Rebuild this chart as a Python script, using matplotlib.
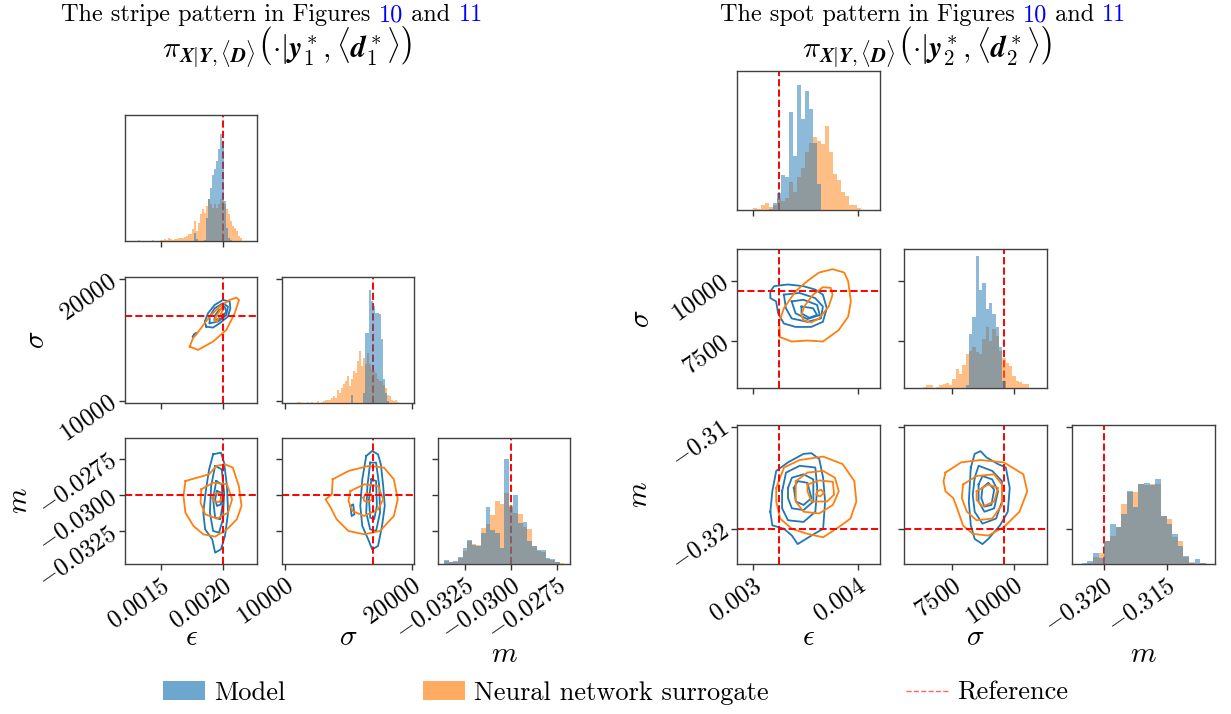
import numpy as np
import matplotlib.pyplot as plt
from matplotlib.patches import Patch
from matplotlib.lines import Line2D

plt.rcParams['font.family'] = 'serif'
plt.rcParams['font.serif'] = ['cmr10']
plt.rcParams['mathtext.fontset'] = 'cm'
plt.rcParams['axes.formatter.use_mathtext'] = True

BLUE = '#1f77b4'
ORANGE = '#ff7f0e'

names = [r'$\epsilon$', r'$\sigma$', r'$m$']

# ---------------- stripe pattern (left) ----------------
ref1 = [0.0020, 16950, -0.0300]

eps1_range = (0.001313, 0.002147)
eps1_orange = [3, 0, 0, 0, 0, 0, 0, 2, 0, 0, 0, 3, 3, 5, 4, 8, 5, 4, 6, 5,
               8, 10, 10, 12, 16, 20, 22, 35, 60, 30, 55, 80, 95, 85, 105, 125, 110, 100, 110, 100,
               110, 125, 120, 110, 95, 80, 60, 45, 40, 30, 15, 8]
eps1_blue = [0, 0, 0, 0, 0, 0, 0, 0, 0, 0, 0, 0, 0, 0, 0, 0, 0, 0, 0, 0,
             0, 0, 0, 0, 0, 0, 0, 0, 25, 5, 0, 0, 0, 3, 70, 125, 160, 198, 215, 240,
             275, 321, 290, 120, 40, 10, 3, 0, 0, 0, 0, 0]

sig1_range = (10969, 18979)
sig1_orange = [3, 3, 0, 0, 0, 3, 0, 3, 0, 0, 6, 0, 3, 6, 10, 8, 10, 14, 22, 15,
               38, 30, 45, 58, 65, 80, 50, 70, 95, 90, 125, 155, 110, 135, 115, 150, 115, 100, 95, 90,
               70, 65, 65, 55, 45, 25, 20, 8, 6, 8, 4]
sig1_blue = [0, 0, 0, 0, 0, 0, 0, 0, 0, 0, 0, 0, 0, 0, 0, 0, 0, 0, 0, 0,
             0, 0, 0, 0, 0, 0, 0, 25, 0, 0, 0, 0, 0, 30, 207, 207, 335, 305, 290, 268,
             268, 265, 190, 70, 30, 5, 0, 0, 0, 0, 0]

m1_range = (-0.033656, -0.027133)
m1_orange = [8, 5, 5, 18, 40, 70, 60, 58, 108, 120, 148, 190, 181, 213, 178, 153, 150, 110, 105, 55,
             40, 35, 15, 12, 6, 3]
m1_blue = [13, 5, 8, 22, 48, 73, 58, 55, 93, 171, 103, 93, 48, 315, 171, 208, 123, 125, 70, 55,
           42, 42, 18, 15, 5, 0]

xlim1 = [(0.001211, 0.00227), (9800, 20190), (-0.03399, -0.02682)]
ylim1 = [None, (9800, 20190), (-0.03475, -0.02608)]
hist_top1 = [378, 375, 378]
xticks1 = [[0.0015, 0.0020], [10000, 20000], [-0.0325, -0.0300, -0.0275]]
xlabels1 = [['0.0015', '0.0020'], ['10000', '20000'], ['-0.0325', '-0.0300', '-0.0275']]
yticks1 = [[], [10000, 20000], [-0.0325, -0.0300, -0.0275]]
ylabels1 = [[], ['10000', '20000'], ['-0.0325', '-0.0300', '-0.0275']]

# KDE level curves, (x list, y list) per ring
es1_blue = [
    ([0.001863, 0.001917, 0.001970, 0.002037, 0.002056, 0.002051, 0.001997, 0.001930, 0.001877, 0.001850],
     [16100, 16017, 16374, 16924, 17610, 18160, 18297, 17885, 17198, 16512]),
    ([0.001890, 0.001957, 0.002024, 0.002037, 0.001997, 0.001930, 0.001890],
     [16374, 16512, 17061, 17748, 18023, 17610, 16924]),
    ([0.001930, 0.001984, 0.002024, 0.002010, 0.001965, 0.001930],
     [16649, 16786, 17335, 17748, 17473, 16979]),
    ([0.001756, 0.001783, 0.001789, 0.001767], [15276, 15468, 15605, 15495]),
]
es1_orange = [
    ([0.001730, 0.001797, 0.001917, 0.002024, 0.002091, 0.002126, 0.002104, 0.002051, 0.001970, 0.001890,
      0.001810, 0.001756],
     [14451, 14177, 14863, 15825, 17198, 18297, 18489, 18297, 17748, 16924, 15825, 15138]),
    ([0.001944, 0.001970, 0.002002, 0.001992, 0.001957, 0.001930],
     [16512, 16924, 17610, 17748, 17198, 16649]),
]
em1_blue = [
    ([0.001918, 0.001981, 0.002006, 0.002029, 0.002038, 0.002013, 0.001981, 0.001934, 0.001911, 0.001854,
      0.001839, 0.001861, 0.001886],
     [-0.027202, -0.027087, -0.027775, -0.029381, -0.031216, -0.032822, -0.033740, -0.033969, -0.033052,
      -0.032363, -0.031216, -0.029610, -0.028234]),
    ([0.001934, 0.001987, 0.002006, 0.001997, 0.001965, 0.001918, 0.001892, 0.001902],
     [-0.028005, -0.028234, -0.029840, -0.031675, -0.032593, -0.032478, -0.031216, -0.029381]),
    ([0.001943, 0.001987, 0.001997, 0.001975, 0.001934, 0.001918],
     [-0.029037, -0.029266, -0.030528, -0.031675, -0.031560, -0.030299]),
    ([0.001949, 0.001981, 0.001981, 0.001949, 0.001934],
     [-0.029725, -0.029840, -0.030643, -0.030757, -0.030299]),
]
em1_orange = [
    ([0.001696, 0.001791, 0.001886, 0.001943, 0.002013, 0.002076, 0.002124, 0.002146, 0.002108, 0.002029,
      0.001934, 0.001839, 0.001760, 0.001696, 0.001680],
     [-0.029037, -0.028808, -0.028578, -0.028005, -0.027890, -0.028119, -0.029381, -0.030757, -0.031675,
      -0.032363, -0.032868, -0.032707, -0.032134, -0.031216, -0.030069]),
    ([0.001823, 0.001918, 0.002029, 0.002070, 0.002038, 0.001949, 0.001854, 0.001817],
     [-0.029610, -0.029152, -0.029266, -0.030299, -0.031216, -0.031629, -0.031331, -0.030528]),
    ([0.001911, 0.001934, 0.001975, 0.001991, 0.001968, 0.001927],
     [-0.030184, -0.029886, -0.029886, -0.030184, -0.030482, -0.030459]),
]
sm1_blue = [
    ([16429, 16895, 17361, 17579, 17765, 17889, 17672, 17361, 16895, 16585, 16119, 15963, 16119],
     [-0.027317, -0.026972, -0.027202, -0.027890, -0.029381, -0.030757, -0.032134, -0.033510, -0.033740,
      -0.033052, -0.032134, -0.030757, -0.028922]),
    ([16740, 17206, 17454, 17517, 17206, 16740, 16429, 16523],
     [-0.027775, -0.027775, -0.029381, -0.031216, -0.032478, -0.032363, -0.031216, -0.029381]),
    ([16833, 17206, 17268, 17051, 16740, 16647],
     [-0.028922, -0.029037, -0.030757, -0.031675, -0.031560, -0.030299]),
    ([15187, 15404, 15498, 15280], [-0.030757, -0.030643, -0.031331, -0.031446]),
]
sm1_orange = [
    ([13789, 15032, 16585, 17827, 18604, 18914, 18604, 17517, 16274, 15032, 14100, 13634, 13230, 13727],
     [-0.028922, -0.028349, -0.028005, -0.028119, -0.028922, -0.030299, -0.031446, -0.032478, -0.032707,
      -0.032478, -0.031675, -0.030872, -0.030299, -0.029955]),
    ([15187, 16274, 17361, 17765, 17361, 16274, 15342, 15032],
     [-0.029725, -0.029266, -0.029381, -0.030299, -0.030987, -0.031446, -0.031102, -0.030413]),
    ([16212, 16429, 16833, 16895, 16585, 16274],
     [-0.030184, -0.029886, -0.029955, -0.030299, -0.030482, -0.030413]),
]

# ---------------- spot pattern (right) ----------------
ref2 = [0.003245, 9590, -0.3200]

eps2_range = (0.003006, 0.004032)
eps2_orange = [5, 3, 15, 20, 10, 15, 35, 27, 37, 84, 54, 99, 124, 174, 200, 217, 207, 197, 252, 174,
               107, 90, 54, 42, 14, 14, 7]
eps2_blue = [0, 0, 0, 0, 3, 20, 52, 105, 100, 294, 162, 372, 272, 354, 302, 200, 77, 0, 0, 0,
             0, 0, 0, 0, 0, 0, 0]

sig2_range = (6284, 10608)
sig2_orange = [3, 8, 8, 0, 3, 10, 12, 15, 8, 28, 55, 40, 68, 100, 110, 120, 105, 100, 145, 180,
               140, 175, 155, 110, 90, 75, 65, 35, 20, 18, 12, 12]
sig2_blue = [0, 0, 0, 0, 0, 0, 0, 0, 0, 0, 0, 0, 0, 10, 160, 210, 390, 290, 310, 235,
             250, 220, 180, 120, 20, 0, 0, 0, 0, 0, 0, 0]

m2_range = (-0.321818, -0.311363)
m2_orange = [0, 3, 20, 32, 70, 85, 110, 180, 215, 215, 240, 237, 238, 240, 143, 133, 80, 70, 20, 5,
             0, 3, 0]
m2_blue = [3, 8, 32, 18, 70, 118, 110, 150, 217, 170, 240, 243, 235, 255, 143, 120, 90, 55, 25, 3,
           15, 3, 0]

xlim2 = [(0.00285, 0.00421), (5530, 11340), (-0.3226, -0.3111)]
ylim2 = [None, (5530, 11340), (-0.32345, -0.30984)]
hist_top2 = [415, 411, 415]
xticks2 = [[0.003, 0.004], [7500, 10000], [-0.320, -0.315]]
xlabels2 = [['0.003', '0.004'], ['7500', '10000'], ['-0.320', '-0.315']]
yticks2 = [[], [7500, 10000], [-0.32, -0.31]]
ylabels2 = [[], ['7500', '10000'], ['-0.32', '-0.31']]

es2_blue = [
    ([0.003167, 0.003204, 0.003333, 0.003481, 0.003593, 0.003667, 0.003704, 0.003667, 0.003556, 0.003407,
      0.003296, 0.003241, 0.003222, 0.003167],
     [9574, 9787, 9858, 9787, 9645, 9432, 8864, 8296, 8083, 8083, 8225, 8651, 9148, 9290]),
    ([0.003296, 0.003444, 0.003593, 0.003667, 0.003648, 0.003519, 0.003370, 0.003315],
     [9432, 9503, 9290, 8935, 8438, 8296, 8438, 8864]),
    ([0.003370, 0.003481, 0.003611, 0.003637, 0.003519, 0.003407],
     [9148, 9219, 9006, 8580, 8410, 8651]),
    ([0.003463, 0.003574, 0.003611, 0.003537, 0.003463],
     [8935, 8864, 8580, 8466, 8651]),
]
es2_orange = [
    ([0.003259, 0.003370, 0.003519, 0.003667, 0.003815, 0.003907, 0.003933, 0.003907, 0.003870, 0.003759,
      0.003630, 0.003519, 0.003407, 0.003296, 0.003252],
     [7657, 7472, 7515, 7472, 7941, 8509, 9148, 10000, 10355, 10497, 10355, 10000, 9574, 8864, 8296]),
    ([0.003481, 0.003556, 0.003630, 0.003722, 0.003759, 0.003741, 0.003667, 0.003574, 0.003489, 0.003463],
     [8367, 8268, 8438, 8935, 9432, 9716, 9744, 9432, 8935, 8580]),
]
em2_blue = [
    ([0.003167, 0.003186, 0.003223, 0.003335, 0.003483, 0.003558, 0.003632, 0.003669, 0.003688, 0.003669,
      0.003558, 0.003427, 0.003372, 0.003297, 0.003186],
     [-0.318333, -0.316333, -0.314333, -0.313500, -0.312667, -0.312600, -0.313167, -0.315000, -0.317333,
      -0.320000, -0.320667, -0.321500, -0.320667, -0.320000, -0.319667]),
    ([0.003279, 0.003316, 0.003446, 0.003595, 0.003613, 0.003595, 0.003483, 0.003335, 0.003279],
     [-0.316333, -0.314500, -0.313833, -0.314000, -0.316000, -0.318333, -0.319333, -0.319167, -0.318000]),
    ([0.003335, 0.003372, 0.003483, 0.003576, 0.003576, 0.003483, 0.003372, 0.003335],
     [-0.316000, -0.315000, -0.314667, -0.315167, -0.317333, -0.318167, -0.318000, -0.317000]),
    ([0.003390, 0.003427, 0.003520, 0.003558, 0.003483, 0.003409],
     [-0.316000, -0.315333, -0.315500, -0.317000, -0.317667, -0.317333]),
]
em2_orange = [
    ([0.003223, 0.003297, 0.003446, 0.003669, 0.003855, 0.003966, 0.003985, 0.003929, 0.003818, 0.003669,
      0.003520, 0.003372, 0.003260, 0.003223],
     [-0.316000, -0.314000, -0.313267, -0.312933, -0.313667, -0.315333, -0.317333, -0.319000, -0.319833,
      -0.320833, -0.320500, -0.320000, -0.319000, -0.317333]),
    ([0.003409, 0.003520, 0.003669, 0.003781, 0.003818, 0.003762, 0.003632, 0.003483, 0.003409],
     [-0.315333, -0.314500, -0.314333, -0.315000, -0.316333, -0.317667, -0.318500, -0.318333, -0.317333]),
    ([0.003520, 0.003632, 0.003762, 0.003773, 0.003706, 0.003558, 0.003520],
     [-0.315667, -0.315267, -0.315400, -0.316667, -0.317333, -0.317333, -0.316333]),
    ([0.003613, 0.003650, 0.003677, 0.003639, 0.003602],
     [-0.316333, -0.316167, -0.316500, -0.316833, -0.316667]),
]
sm2_blue = [
    ([8244, 8402, 8639, 8876, 9351, 9667, 9826, 9746, 9430, 8955, 8718, 8402, 8244, 8164],
     [-0.314000, -0.312667, -0.312400, -0.313000, -0.313667, -0.314000, -0.316000, -0.318333, -0.319667,
      -0.321000, -0.321500, -0.321000, -0.319667, -0.317333]),
    ([8402, 8560, 9114, 9509, 9509, 9272, 8718, 8402, 8323],
     [-0.315000, -0.313833, -0.314333, -0.315333, -0.317333, -0.319000, -0.319500, -0.318333, -0.316667]),
    ([8560, 8718, 9114, 9351, 9193, 8797, 8560],
     [-0.315667, -0.314833, -0.315167, -0.316333, -0.318000, -0.318333, -0.317333]),
    ([8718, 8955, 9193, 9082, 8797, 8671],
     [-0.316000, -0.315500, -0.316167, -0.317667, -0.317833, -0.317000]),
]
sm2_orange = [
    ([7215, 7848, 8639, 9588, 10379, 10537, 10221, 9588, 8955, 8323, 7927, 7690, 7532, 7215, 7136],
     [-0.314500, -0.313500, -0.313267, -0.313500, -0.314667, -0.316333, -0.318333, -0.319833, -0.320667,
      -0.320500, -0.319667, -0.318000, -0.317000, -0.316333, -0.315333]),
    ([7927, 8481, 9193, 9509, 9509, 9114, 8481, 8085, 7880],
     [-0.315667, -0.314833, -0.314667, -0.315667, -0.317667, -0.319000, -0.319167, -0.318333, -0.317000]),
    ([8481, 8955, 9351, 9193, 8718, 8481],
     [-0.316333, -0.315667, -0.316000, -0.317333, -0.317833, -0.317167]),
]

W, H = 1231, 714
fig = plt.figure(figsize=(W / 100, H / 100), dpi=100)


def add_box(x, y, w, h):
    return fig.add_axes([x / W, 1 - (y + h) / H, w / W, h / H])


def ring(ax, pts, color):
    xs = list(pts[0]) + [pts[0][0]]
    ys = list(pts[1]) + [pts[1][0]]
    ax.plot(xs, ys, color=color, lw=1.3)


def style(ax):
    for s in ax.spines.values():
        s.set_color('0.25')
        s.set_linewidth(1.0)
    ax.tick_params(length=4, width=1, color='0.2', labelsize=18)


ROT = 35


def corner(xs, ys, w, h, xlim, ylim, xt, xl, yt, yl, ref, hists, tops, kdes, xlab_y, ylab_x):
    for i in range(3):
        for j in range(i + 1):
            ax = add_box(xs[j], ys[i], w, h)
            style(ax)
            ax.set_xlim(xlim[j])
            ax.set_xticks(xt[j])
            if i == 2:
                ax.set_xticklabels(['$' + s + '$' for s in xl[j]], rotation=ROT, ha='right',
                                   rotation_mode='anchor')
                ax.set_xlabel(names[j], fontsize=21, va='center')
                ax.xaxis.set_label_coords(0.5, -(xlab_y[j] - ys[2] - h) / h)
            else:
                ax.set_xticklabels([])
            if i == j:
                if i > 0:
                    ax.set_ylim(ylim[i])
                    ax.set_yticks(yt[i])
                    ax.set_yticklabels([])
                else:
                    ax.set_yticks([])
                ax.axvline(ref[j], color='red', ls='--', lw=1.4)
                lo, hi, orange, blue = hists[i]
                edges = np.linspace(lo, hi, len(orange) + 1)
                hx = ax.twinx()
                hx.stairs(orange, edges, fill=True, color=ORANGE, alpha=0.5, lw=0)
                hx.stairs(blue, edges, fill=True, color=BLUE, alpha=0.5, lw=0)
                hx.set_ylim(0, tops[i])
                hx.set_yticks([])
                hx.set_xlim(xlim[j])
                for s in hx.spines.values():
                    s.set_visible(False)
            else:
                ax.set_ylim(ylim[i])
                ax.set_yticks(yt[i])
                if j == 0:
                    ax.set_yticklabels(['$' + s + '$' for s in yl[i]], rotation=ROT, ha='right',
                                       va='center', rotation_mode='anchor')
                    ax.set_ylabel(names[i], fontsize=21, va='center')
                    ax.yaxis.set_label_coords((ylab_x[i] - xs[0]) / w, 0.5)
                else:
                    ax.set_yticklabels([])
                blue_rings, orange_rings = kdes[(i, j)]
                for r in blue_rings:
                    ring(ax, r, BLUE)
                for r in orange_rings:
                    ring(ax, r, ORANGE)
                ax.axvline(ref[j], color='red', ls='--', lw=1.4)
                ax.axhline(ref[i], color='red', ls='--', lw=1.4)


corner([125, 282, 438], [115, 277, 438], 132, 126, xlim1, ylim1, xticks1, xlabels1, yticks1, ylabels1,
       ref1,
       [(eps1_range[0], eps1_range[1], eps1_orange, eps1_blue),
        (sig1_range[0], sig1_range[1], sig1_orange, sig1_blue),
        (m1_range[0], m1_range[1], m1_orange, m1_blue)],
       hist_top1,
       {(1, 0): (es1_blue, es1_orange), (2, 0): (em1_blue, em1_orange), (2, 1): (sm1_blue, sm1_orange)},
       [638, 638, 655], [None, 37, 20])

corner([737, 904, 1072], [71, 249, 425], 143, 139, xlim2, ylim2, xticks2, xlabels2, yticks2, ylabels2,
       ref2,
       [(eps2_range[0], eps2_range[1], eps2_orange, eps2_blue),
        (sig2_range[0], sig2_range[1], sig2_orange, sig2_blue),
        (m2_range[0], m2_range[1], m2_orange, m2_blue)],
       hist_top2,
       {(1, 0): (es2_blue, es2_orange), (2, 0): (em2_blue, em2_orange), (2, 1): (sm2_blue, sm2_orange)},
       [638, 638, 655], [None, 642, 640])


# titles: first line has blue figure numbers
def title_line(xc, y, parts, fs):
    r = fig.canvas.get_renderer()
    texts = [fig.text(0, 1 - y / H, s, color=c, fontsize=fs, ha='left', va='center') for s, c in parts]
    widths = [t.get_window_extent(r).width for t in texts]
    x = xc - sum(widths) / 2
    for t, wd in zip(texts, widths):
        t.set_x(x / W)
        x += wd


for xc1, xc2, word, sub in [(272, 287, 'stripe', '1'), (923, 927, 'spot', '2')]:
    title_line(xc1, 15, [('The ' + word + ' pattern in Figures ', 'black'), ('10', 'blue'),
                         (' and ', 'black'), ('11', 'blue')], 17.5)
    fig.text(xc2 / W, 1 - 48 / H,
             r'$\pi_{\boldsymbol{X}|\boldsymbol{Y},\langle\boldsymbol{D}\rangle}\left(\cdot|\boldsymbol{y}_'
             + sub + r'^*,\langle\boldsymbol{d}_' + sub + r'^*\rangle\right)$',
             fontsize=21.5, ha='center', va='center')

handles = [Patch(facecolor=BLUE, alpha=0.65), Patch(facecolor=ORANGE, alpha=0.65),
           Line2D([], [], color='red', ls='--', lw=1, alpha=0.6)]
fig.legend(handles, ['Model', 'Neural network surrogate', 'Reference'], loc='center',
           bbox_to_anchor=(0.5, 1 - 693 / H), ncol=3, frameon=False, fontsize=19,
           columnspacing=5.2, handlelength=1.6, handletextpad=0.35)

fig.savefig('out.png', dpi=100)
